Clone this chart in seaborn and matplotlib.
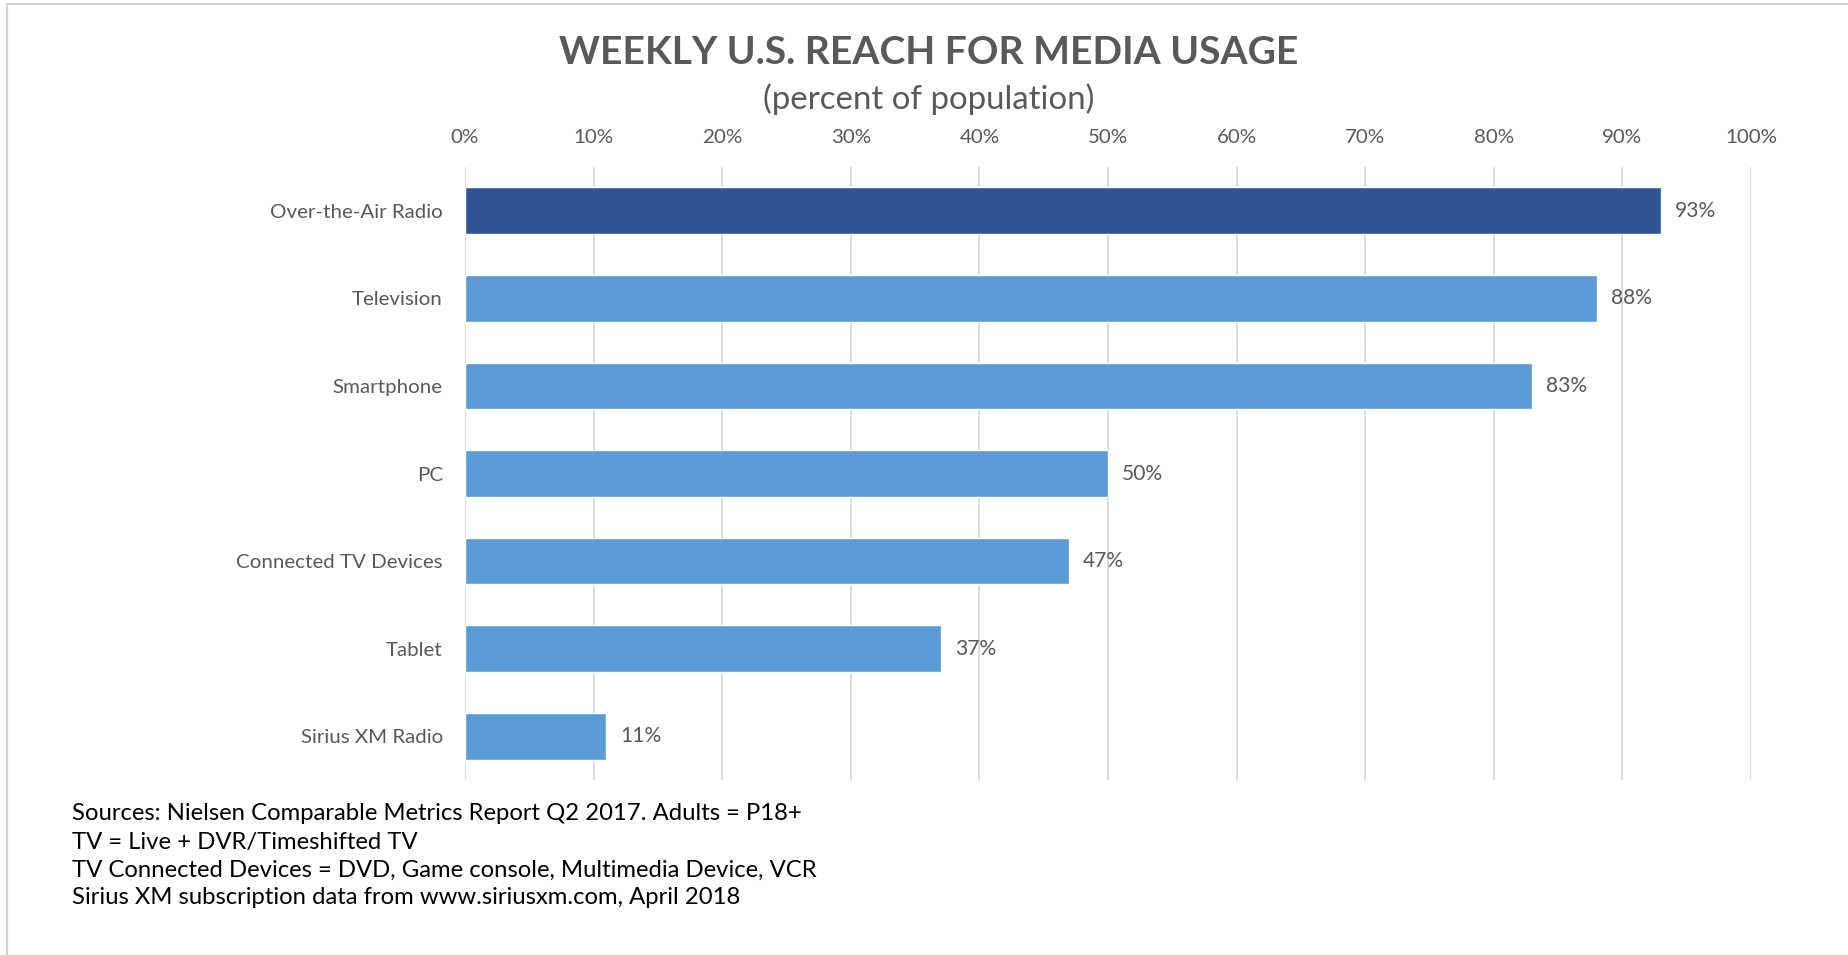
import matplotlib
matplotlib.use("Agg")
import matplotlib.pyplot as plt
import seaborn as sns
import pandas as pd
from matplotlib.lines import Line2D

# ---------------- data ----------------
categories = ["Over-the-Air Radio", "Television", "Smartphone", "PC",
              "Connected TV Devices", "Tablet", "Sirius XM Radio"]
reach = [93, 88, 83, 50, 47, 37, 11]
tick_values = [0, 10, 20, 30, 40, 50, 60, 70, 80, 90, 100]
tick_labels = ["0%", "10%", "20%", "30%", "40%", "50%", "60%", "70%", "80%", "90%", "100%"]
title = "WEEKLY U.S. REACH FOR MEDIA USAGE"
subtitle = "(percent of population)"
footnotes = [
    "Sources: Nielsen Comparable Metrics Report Q2 2017. Adults = P18+",
    "TV = Live + DVR/Timeshifted TV",
    "TV Connected Devices = DVD, Game console, Multimedia Device, VCR",
    "Sirius XM subscription data from www.siriusxm.com, April 2018",
]
bar_colors = ["#2F5597"] + ["#5B9BD5"] * 6

# ---------------- style ----------------
sns.set_theme(style="white")
plt.rcParams["font.family"] = ["Lato", "DejaVu Sans"]
GRAY = "#595959"

W, H = 1849, 955
fig = plt.figure(figsize=(W / 100, H / 100), dpi=100)
fig.patch.set_facecolor("white")
renderer = fig.canvas.get_renderer()


def fx(px):
    return px / W


def fy(py):
    return 1 - py / H


def fit_size(text, target_px, weight="normal", base=20.0):
    t = fig.text(0, 0, text, fontsize=base, fontweight=weight)
    w = t.get_window_extent(renderer=renderer).width
    t.remove()
    return base * target_px / w


# ---------------- axes ----------------
ax_top, ax_bot, ax_l, ax_r = 167, 780, 465, 1751
ax = fig.add_axes([fx(ax_l), fy(ax_bot), fx(ax_r) - fx(ax_l), (ax_bot - ax_top) / H])

df = pd.DataFrame({"category": categories, "reach": reach})
sns.barplot(data=df, y="category", x="reach", hue="category", palette=bar_colors,
            orient="h", width=0.535, saturation=1, legend=False, ax=ax)

ax.set_xlim(0, 100)
ax.set_ylim(6.5, -0.5)
ax.set_xlabel("")
ax.set_ylabel("")
for s in ax.spines.values():
    s.set_visible(False)
ax.xaxis.tick_top()
ax.set_xticks(tick_values)
tick_fs = fit_size("100%", 52)
ax.set_xticklabels(tick_labels, fontsize=tick_fs, color=GRAY)
cat_fs = fit_size("Over-the-Air Radio", 173)
for lab in ax.get_yticklabels():
    lab.set_fontsize(cat_fs)
    lab.set_color(GRAY)
ax.tick_params(axis="x", length=0, pad=15)
ax.tick_params(axis="y", length=0, pad=16)
ax.xaxis.grid(True, color="#D9D9D9", linewidth=1.3)
ax.yaxis.grid(False)
ax.set_axisbelow(True)

val_fs = fit_size("93%", 41)
for c in ax.containers:
    ax.bar_label(c, fmt="{:.0f}%", padding=10, fontsize=val_fs, color=GRAY)

# ---------------- titles ----------------
title_fs = fit_size(title, 740, weight="bold")
fig.text(fx(929), fy(53), title, ha="center", va="center", fontsize=title_fs,
         fontweight="bold", color=GRAY)
sub_fs = fit_size(subtitle, 332)
fig.text(fx(929), fy(99), subtitle, ha="center", va="center", fontsize=sub_fs, color=GRAY)

# ---------------- footnotes ----------------
foot_fs = fit_size(footnotes[0], 733)
for line, y in zip(footnotes, [813, 842, 870, 898]):
    fig.text(fx(72), fy(y), line, ha="left", va="center", fontsize=foot_fs, color="#000000")

# ---------------- border ----------------
fig.add_artist(Line2D([fx(7), 1.0], [fy(4), fy(4)], color="#D0D0D0", lw=1.6,
                      transform=fig.transFigure))
fig.add_artist(Line2D([fx(7), fx(7)], [fy(4), 0.0], color="#D0D0D0", lw=1.6,
                      transform=fig.transFigure))

fig.savefig("out.png", dpi=100)
